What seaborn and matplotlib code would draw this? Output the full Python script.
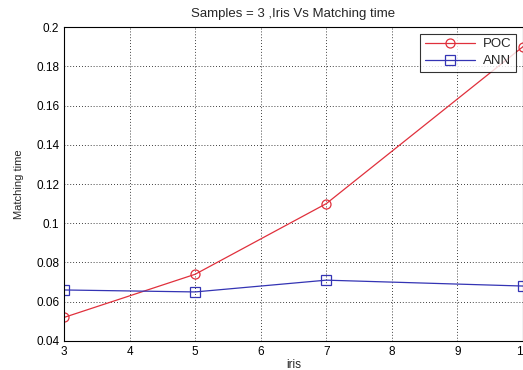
import pandas as pd
import seaborn as sns
import matplotlib.pyplot as plt
from matplotlib.ticker import FuncFormatter

# values
iris = [3, 5, 7, 10]
poc_time = [0.052, 0.074, 0.110, 0.190]
ann_time = [0.066, 0.065, 0.071, 0.068]

df = pd.concat([
    pd.DataFrame({"iris": iris, "time": poc_time, "method": "POC"}),
    pd.DataFrame({"iris": iris, "time": ann_time, "method": "ANN"}),
])

sns.set_style("white")
plt.rcParams["font.family"] = ["Liberation Sans", "DejaVu Sans"]

fig = plt.figure(figsize=(5.23, 3.70), dpi=100)
ax = fig.add_axes([0.1224, 0.0784, 0.8776, 0.8486])

styles = {"POC": ("#e0303c", "o"), "ANN": ("#3434b4", "s")}
for name, (col, mk) in styles.items():
    sub = df[df["method"] == name]
    sns.lineplot(data=sub, x="iris", y="time", ax=ax, color=col, marker=mk,
                 markersize=6.5, mfc="none", mec=col, mew=0.9, lw=0.9, label=name)

ax.set_xlim(3, 10)
ax.set_ylim(0.04, 0.2)
ax.set_xticks(range(3, 11))
ax.set_yticks([0.04 + 0.02 * i for i in range(9)])
ax.yaxis.set_major_formatter(FuncFormatter(lambda v, p: f"{v:g}"))
ax.grid(True, color="black", linestyle=(0, (1, 2.5)), linewidth=0.6)
for s in ax.spines.values():
    s.set_color("black")
    s.set_linewidth(0.8)
ax.tick_params(direction="in", length=3, labelsize=8.5, colors="black")

ax.set_title("Samples = 3 ,Iris Vs Matching time", fontsize=9.5, pad=7)
ax.set_xlabel("iris", fontsize=8.5, labelpad=1)
ax.set_ylabel("Matching time", fontsize=8, labelpad=9)

leg = ax.legend(loc="upper right", fontsize=9.5, frameon=True, fancybox=False,
                edgecolor="black", borderaxespad=0.5, handlelength=3.8,
                borderpad=0.35, labelspacing=0.35, handletextpad=0.6)
leg.get_frame().set_linewidth(0.8)

fig.savefig("out.png", dpi=100)
